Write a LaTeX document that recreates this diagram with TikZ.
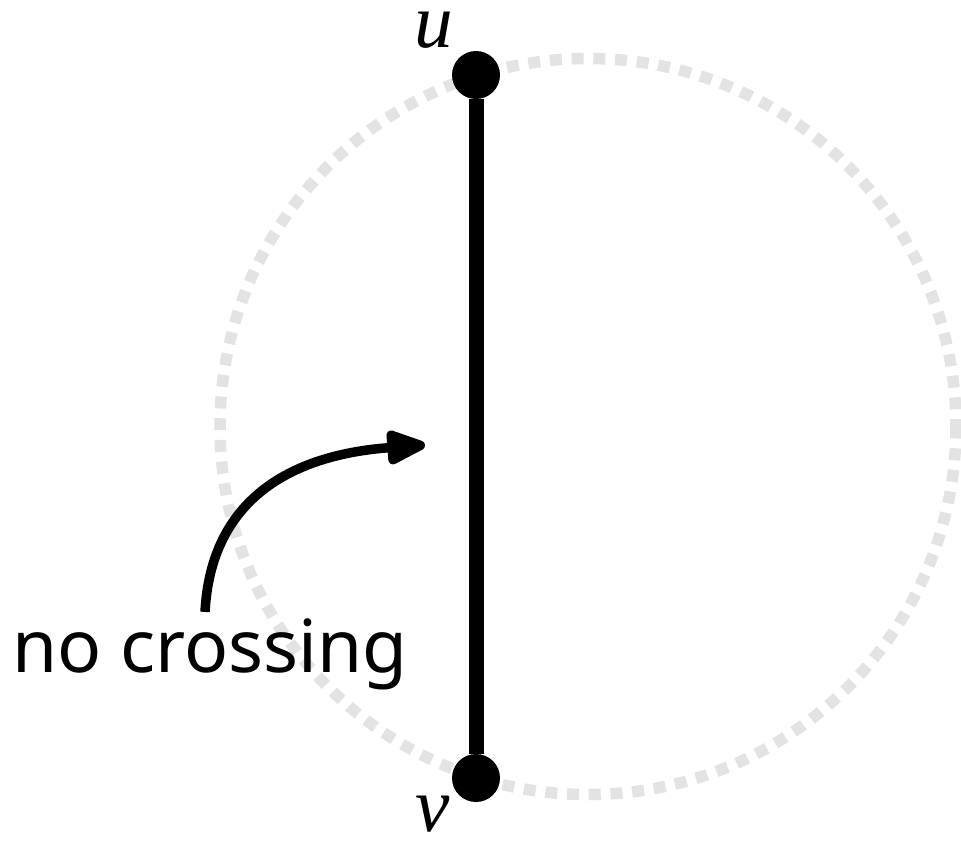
\documentclass[tikz,border=0pt]{standalone}
\usepackage{fontspec}
\newfontfamily\notosans{Noto Sans}
\newfontfamily\lblserif{Liberation Serif}
\usetikzlibrary{arrows.meta, positioning}
\definecolor{ringc}{RGB}{226,227,226}
\tikzset{
  vtx/.style={circle, fill=black, inner sep=0pt, minimum size=0.96cm},
  edge/.style={line width=0.3cm},
  ring/.style={ringc, line width=0.23cm, dash pattern=on 0.24cm off 0.195cm},
  pointer/.style={-{Triangle[length=0.92cm, width=0.72cm, round]}, line width=0.19cm},
  vlbl/.style={font=\lblserif\itshape\fontsize{44}{50}\selectfont, inner sep=0pt},
  note/.style={font=\notosans\fontsize{41.6}{48}\selectfont},
}

\begin{document}
\begin{tikzpicture}[x=0.02cm, y=-0.02cm]
  \useasboundingbox (0,0) rectangle (961,840);
  % dotted circle behind the chord
  \draw[ring] (588,426.5) circle[radius=368];

  % the chord u--v
  \node[vtx] (u) at (476,75) {};
  \node[vtx] (v) at (476,778) {};
  \draw[edge] (u) -- (v);
  \node[vlbl] (ulab) at (434,30) {u};
  \node[vlbl] (vlab) at (433,814) {v};

  % remark
  \node[note, anchor=base] (nocross) at (210,672) {no crossing};
  \coordinate (tip) at (425,445);
  \draw[pointer] ([xshift=-0.1cm]nocross.north) .. controls (211,500) and (290,455) .. (tip);
\end{tikzpicture}
\end{document}
